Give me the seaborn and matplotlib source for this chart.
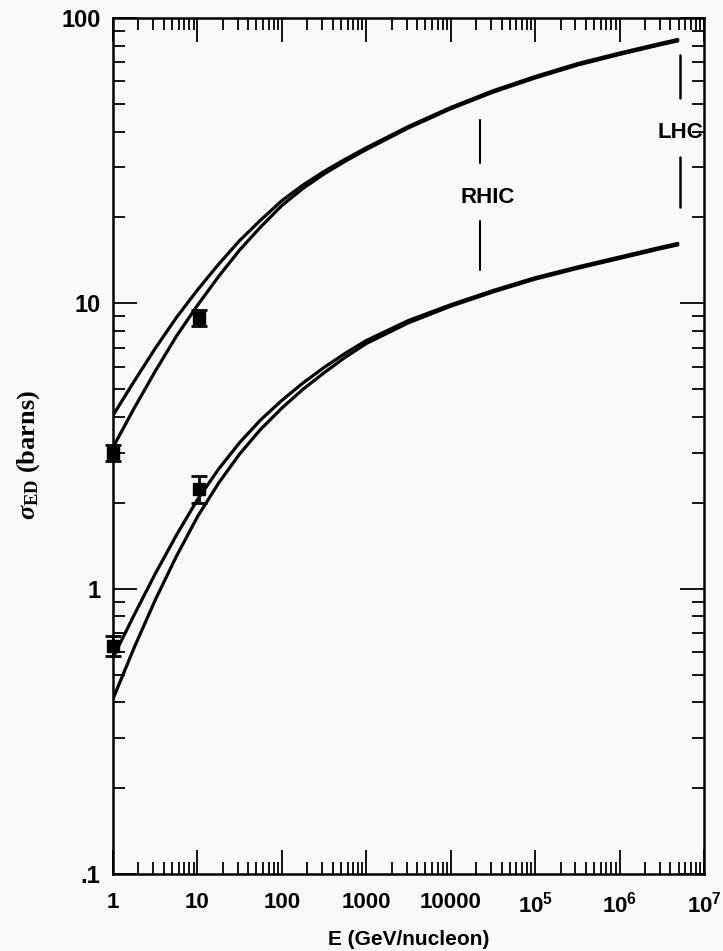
import numpy as np
import pandas as pd
import matplotlib
matplotlib.use("Agg")
import matplotlib.pyplot as plt
import matplotlib.ticker as mticker
import seaborn as sns

# ---- data ----
energy = [1, 1.78, 3.16, 5.62, 10, 17.8, 31.6, 56.2, 100, 178, 316, 562, 1000,
          3160, 1e4, 3.16e4, 1e5, 3.16e5, 1e6, 3.16e6, 4.9e6]
upper_outer = [4.05, 5.33, 6.95, 8.91, 11.14, 13.71, 16.6, 19.6, 22.9, 26.0, 29.0, 32.0, 35.1,
               41.7, 48.6, 55.6, 62.4, 69.2, 75.4, 81.7, 84.1]
upper_inner = [3.13, 4.29, 5.78, 7.66, 9.84, 12.42, 15.38, 18.54, 22.03, 25.29, 28.42, 31.48, 34.59,
               41.21, 48.08, 54.95, 61.66, 68.39, 74.56, 80.82, 83.18]
lower_outer = [0.573, 0.809, 1.127, 1.538, 2.051, 2.624, 3.251, 3.908, 4.571, 5.26, 5.96, 6.68, 7.41,
               8.71, 9.89, 11.09, 12.30, 13.41, 14.54, 15.76, 16.22]
lower_inner = [0.411, 0.621, 0.912, 1.297, 1.786, 2.344, 2.965, 3.622, 4.295, 5.0, 5.71, 6.47, 7.23,
               8.55, 9.77, 10.96, 12.16, 13.26, 14.37, 15.58, 16.03]

meas_E = [1.0, 10.5, 1.0, 10.5]
meas_sigma = [3.0, 8.9, 0.63, 2.24]
meas_err = [0.2, 0.6, 0.05, 0.25]

rhic_E = 2.2e4
rhic_segments = [(31.0, 43.8), (13.1, 19.5)]
rhic_label_y = 23.5
lhc_E = 5.2e6
lhc_segments = [(52.4, 74.0), (21.7, 32.5)]
lhc_label_y = 39.8

x_ticks = [1, 10, 100, 1000, 1e4, 1e5, 1e6, 1e7]
x_ticklabels = ["1", "10", "100", "1000", "10000",
                r"$\mathbf{10^{5}}$", r"$\mathbf{10^{6}}$", r"$\mathbf{10^{7}}$"]
y_ticks = [0.1, 1, 10, 100]
y_ticklabels = [".1", "1", "10", "100"]

# ---- style ----
sns.set_style("ticks")
plt.rcParams["font.family"] = ["Liberation Sans", "DejaVu Sans"]
plt.rcParams["mathtext.fontset"] = "custom"
plt.rcParams["mathtext.bf"] = "Liberation Sans:bold"
plt.rcParams["mathtext.rm"] = "Liberation Serif:bold"
plt.rcParams["mathtext.it"] = "Liberation Serif:italic:bold"
for key in ["text.color", "axes.labelcolor", "xtick.color", "ytick.color", "axes.edgecolor"]:
    plt.rcParams[key] = "black"

bg = "#f9f9f9"
fig = plt.figure(figsize=(7.23, 9.51), dpi=100, facecolor=bg)
ax = fig.add_axes([0.1563, 0.081, 0.8174, 0.900])
ax.set_facecolor(bg)

curves = {"upper_outer": upper_outer, "upper_inner": upper_inner,
          "lower_outer": lower_outer, "lower_inner": lower_inner}
rows = []
for name, vals in curves.items():
    for e, v in zip(energy, vals):
        rows.append({"E": e, "sigma": v, "curve": name})
df = pd.DataFrame(rows)

for name in curves:
    sub = df[df["curve"] == name]
    sns.lineplot(data=sub, x="E", y="sigma", color="black", lw=2.3,
                 estimator=None, sort=False, ax=ax, legend=False)

ax.errorbar(meas_E, meas_sigma, yerr=meas_err, fmt="s", color="black",
            ms=8, capsize=6, elinewidth=2, capthick=2, clip_on=False, zorder=5)

for lo, hi in rhic_segments:
    ax.plot([rhic_E, rhic_E], [lo, hi], color="black", lw=1.5)
for lo, hi in lhc_segments:
    ax.plot([lhc_E, lhc_E], [lo, hi], color="black", lw=1.8)
ax.text(rhic_E * 1.25, rhic_label_y, "RHIC", ha="center", va="center",
        fontsize=16, fontweight="bold")
ax.text(lhc_E, lhc_label_y, "LHC", ha="center", va="center",
        fontsize=16, fontweight="bold")

ax.set_xscale("log")
ax.set_yscale("log")
ax.set_xlim(1, 1e7)
ax.set_ylim(0.1, 100)

ax.set_xticks(x_ticks)
ax.set_xticklabels(x_ticklabels)
ax.set_yticks(y_ticks)
ax.set_yticklabels(y_ticklabels)
ax.xaxis.set_minor_locator(mticker.LogLocator(base=10, subs=np.arange(2, 10), numticks=20))
ax.yaxis.set_minor_locator(mticker.LogLocator(base=10, subs=np.arange(2, 10), numticks=20))
ax.xaxis.set_minor_formatter(mticker.NullFormatter())
ax.yaxis.set_minor_formatter(mticker.NullFormatter())

ax.tick_params(which="both", direction="in", top=True, right=True, width=1.3,
               color="black")
ax.tick_params(which="major", length=17)
ax.tick_params(which="minor", length=8.5)
ax.tick_params(axis="x", which="major", pad=13, labelsize=16)
ax.tick_params(axis="y", which="major", pad=9, labelsize=17)
for lab in ax.get_xticklabels() + ax.get_yticklabels():
    lab.set_fontweight("bold")

for sp in ax.spines.values():
    sp.set_linewidth(1.8)
    sp.set_color("black")

ax.set_xlabel("E (GeV/nucleon)", fontsize=15, fontweight="bold", labelpad=9)
ax.set_ylabel(r"$\sigma_{\rm ED}$ (barns)", fontsize=19, fontweight="bold",
              family="Liberation Serif")
ax.yaxis.set_label_coords(-0.12, 0.49)

fig.savefig("out.png", dpi=100, facecolor=bg)
